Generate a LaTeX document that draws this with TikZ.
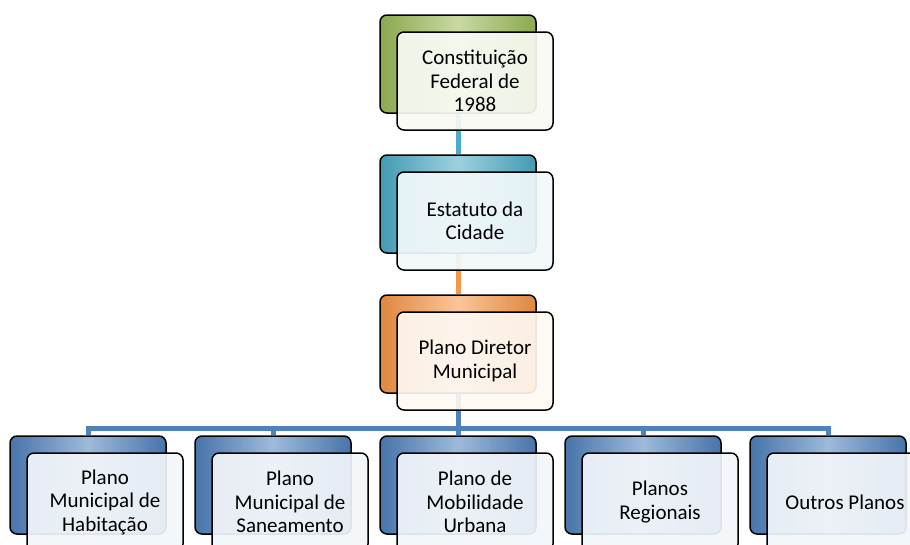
\documentclass[tikz,border=0pt]{standalone}
\usepackage{fontspec}
\setmainfont{Carlito}
\usetikzlibrary{backgrounds}

\definecolor{cfgreen}{HTML}{9BBB59}
\definecolor{ecteal}{HTML}{4BACC6}
\definecolor{pdorange}{HTML}{F79646}
\definecolor{planblue}{HTML}{4F81BD}

\tikzset{
  backbox/.style={draw=black, line width=1.5pt, rounded corners=7pt,
    minimum width=156pt, minimum height=98pt,
    left color=#1!90!black, right color=#1!90!black, middle color=#1!55!white},
  frontbox/.style={draw=black, line width=1.5pt, rounded corners=7pt,
    minimum width=156pt, minimum height=98pt, align=center,
    fill=#1!7!white, fill opacity=0.92, text opacity=1,
    font=\fontsize{21}{23.5}\selectfont},
  link/.style={draw=#1, line width=5pt}
}

\begin{document}
\begin{tikzpicture}[x=1pt, y=-1pt]
            \clip (0,0) rectangle (910,544);

            \node[backbox=cfgreen] (cfback) at (458,64) {};
            \node[frontbox=cfgreen] (cf) at (475,81) {Constituição\\Federal de\\1988};

            \node[backbox=ecteal] (ecback) at (458,204) {};
            \node[frontbox=ecteal] (ec) at (475,221) {Estatuto da\\Cidade};

            \node[backbox=pdorange] (pdback) at (458,344) {};
            \node[frontbox=pdorange] (pd) at (475,361) {Plano Diretor\\Municipal};

            \node[backbox=planblue] (phback) at (88,485) {};
            \node[frontbox=planblue] (ph) at (105,502) {Plano\\Municipal de\\Habitação};

            \node[backbox=planblue] (psback) at (273,485) {};
            \node[frontbox=planblue] (ps) at (290,502) {Plano\\Municipal de\\Saneamento};

            \node[backbox=planblue] (pmback) at (458,485) {};
            \node[frontbox=planblue] (pm) at (475,502) {Plano de\\Mobilidade\\Urbana};

            \node[backbox=planblue] (prback) at (643,485) {};
            \node[frontbox=planblue] (pr) at (660,502) {Planos\\Regionais};

            \node[backbox=planblue] (opback) at (828,485) {};
            \node[frontbox=planblue] (op) at (845,502) {Outros Planos};

            \coordinate (bus) at (458,428);

            \begin{scope}[on background layer]
            \draw[link=ecteal] (cfback.south) -- (ecback.north);
            \draw[link=pdorange] (ecback.south) -- (pdback.north);

            \draw[link=planblue] (pdback.south) -- (bus);
            \draw[link=planblue] (bus) -| (phback.north);
            \draw[link=planblue] (bus) -| (psback.north);
            \draw[link=planblue] (bus) -- (pmback.north);
            \draw[link=planblue] (bus) -| (prback.north);
            \draw[link=planblue] (bus) -| (opback.north);
            \end{scope}
        \end{tikzpicture}
\end{document}
